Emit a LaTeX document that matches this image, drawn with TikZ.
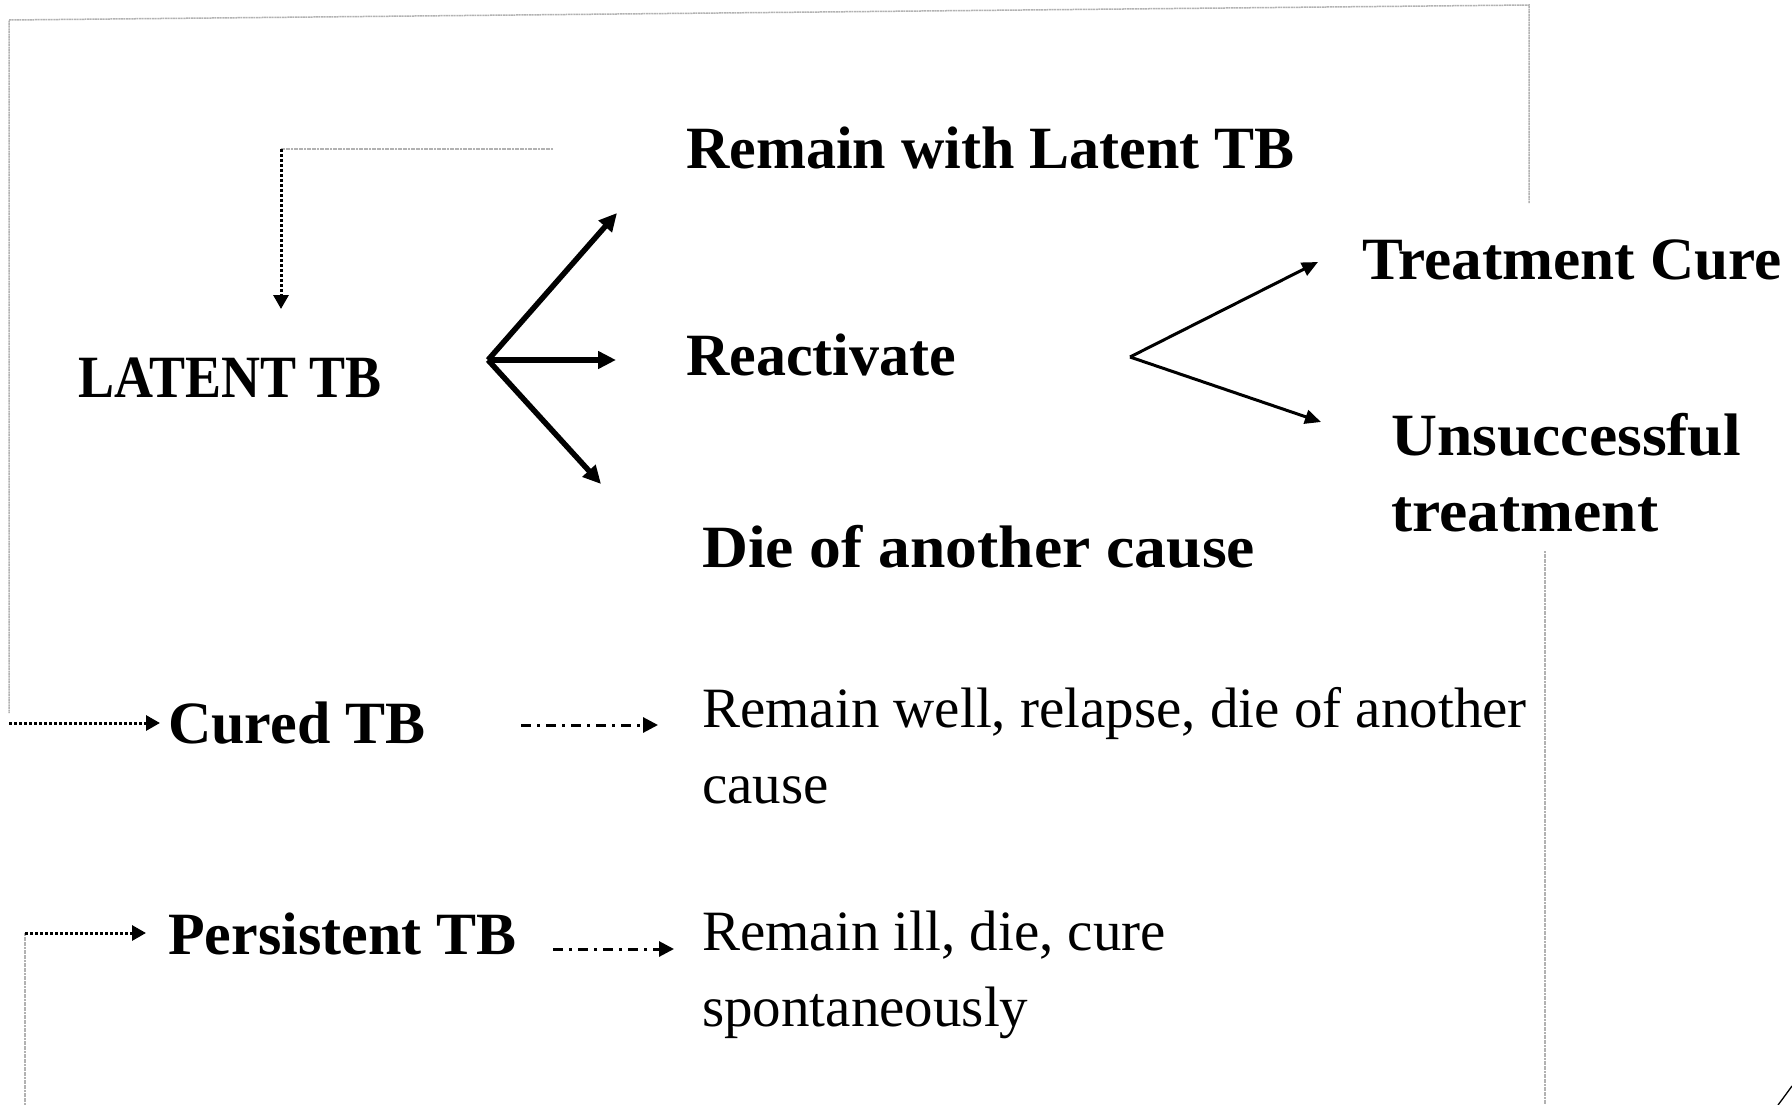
\documentclass[tikz,border=0pt]{standalone}
\usepackage{fontspec}
\setmainfont{Liberation Serif}
\usetikzlibrary{arrows.meta}
\begin{document}
\begin{tikzpicture}[x=1pt,y=-1pt,
  head/.style={anchor=base west, inner sep=0pt, align=left,
    font=\fontsize{60}{76}\selectfont\bfseries},
  plain/.style={anchor=base west, inner sep=0pt, align=left,
    font=\fontsize{57}{76}\selectfont},
  bigarrow/.style={line width=5.5pt, -{Triangle[length=18pt,width=17pt]}},
  forkarrow/.style={line width=3pt, -{Triangle[length=16pt,width=14pt]}},
  loopline/.style={draw=gray!60, line width=1.5pt, dash pattern=on 2pt off 0.6pt},
  dotarrow/.style={line width=3pt, dash pattern=on 3pt off 2pt,
    -{Triangle[length=14pt,width=15pt]}},
  dasharrow/.style={line width=3pt, dash pattern=on 10pt off 6pt on 3pt off 6pt,
    -{Triangle[length=15pt,width=15pt]}}
]
\useasboundingbox[fill=white] (0,0) rectangle (1792,1105);

% states (multi-line nodes are placed by the baseline of their last line)
\node[head] (latent) at (78,397) {\scalebox{0.9}[1]{LATENT TB}};
\node[head] (remain) at (686,168) {Remain with Latent TB};
\node[head] (react)  at (686,375) {Reactivate};
\node[head] (die)    at (702,567) {\scalebox{1.06}[1]{Die of another cause}};
\node[head] (cure)   at (1362,279) {\scalebox{1.02}[1]{Treatment Cure}};
\node[head] (unsucc) at (1391,531) {\scalebox{1.06}[1]{Unsuccessful}\\\scalebox{1.06}[1]{treatment}};
\node[head] (cured)  at (168,743) {Cured TB};
\node[head] (persist) at (168,954) {Persistent TB};
\node[plain] (well)  at (702,803) {Remain well, relapse, die of another\\cause};
\node[plain] (ill)   at (702,1026) {Remain ill, die, cure\\spontaneously};

% branching points and arrow ends
\coordinate (f1) at (488,360);
\coordinate (f1a) at (617,213);
\coordinate (f1b) at (616,360);
\coordinate (f1c) at (601,484);
\coordinate (f2) at (1130,357);
\coordinate (f2a) at (1318,262);
\coordinate (f2b) at (1321,422);

% latent TB outcomes
\draw[bigarrow] (f1) -- (f1a);
\draw[bigarrow] (f1) -- (f1b);
\draw[bigarrow] (f1) -- (f1c);

% treatment outcomes
\draw[forkarrow] (f2) -- (f2a);
\draw[forkarrow] (f2) -- (f2b);

% remain latent loops back to latent TB
\coordinate (rl) at (553,149);
\coordinate (rlc) at (281,149);
\coordinate (rlt) at (281,309);
\draw[loopline] (rl) -- (rlc);
\draw[dotarrow] (rlc) -- (rlt);

% cure leads round the top to cured TB
\coordinate (tcup) at (1529,203);
\coordinate (tr) at (1529,5);
\coordinate (tl) at (9,20);
\coordinate (lc) at (9,713);
\coordinate (lcs) at (9,723);
\coordinate (lct) at (160,723);
\draw[loopline] (tcup) -- (tr) -- (tl) -- (lc);
\draw[dotarrow] (lcs) -- (lct);

% unsuccessful treatment leads round the bottom to persistent TB
\coordinate (ud) at (1545,551);
\coordinate (ub) at (1545,1105);
\draw[loopline] (ud) -- (ub);
\coordinate (pb) at (25,1105);
\coordinate (pc) at (25,933);
\coordinate (pt) at (146,933);
\draw[loopline] (pb) -- (pc);
\draw[dotarrow] (pc) -- (pt);

% further outcomes
\coordinate (cw1) at (521,725);
\coordinate (cw2) at (658,725);
\draw[dasharrow] (cw1) -- (cw2);
\coordinate (pi1) at (553,949);
\coordinate (pi2) at (674,949);
\draw[dasharrow] (pi1) -- (pi2);

% corner mark
\coordinate (ca) at (1778,1105);
\coordinate (cb) at (1792,1086);
\draw[line width=1.3pt] (ca) .. controls (1784,1097) .. (cb);
\end{tikzpicture}
\end{document}
